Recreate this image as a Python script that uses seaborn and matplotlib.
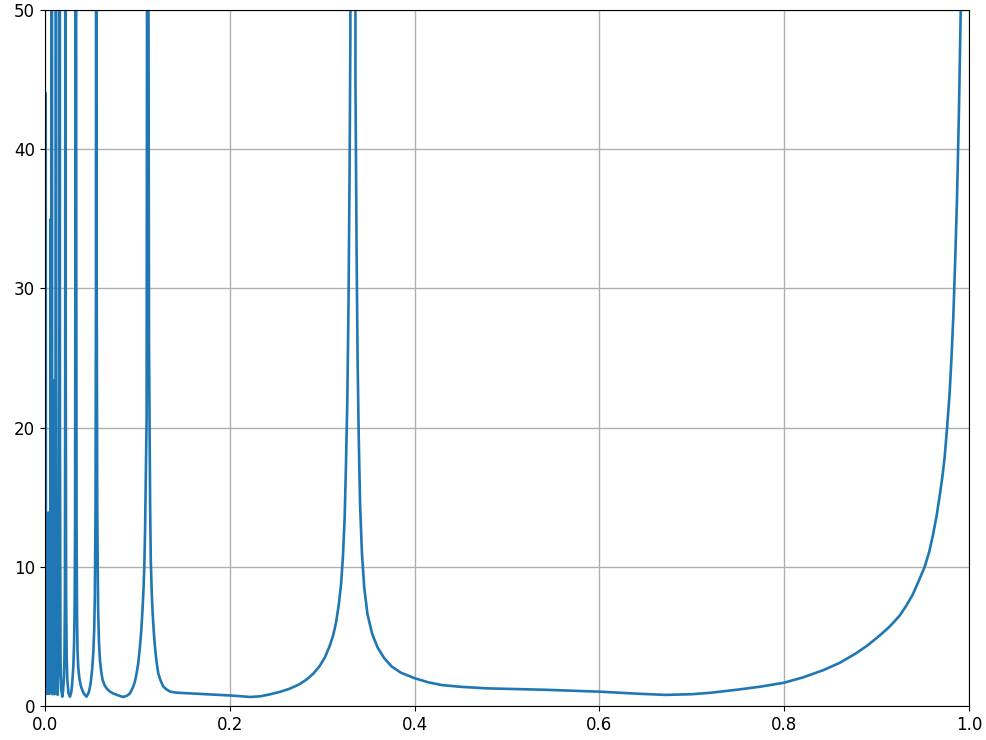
import numpy as np
import pandas as pd
import matplotlib
matplotlib.use("Agg")
import matplotlib.pyplot as plt
import seaborn as sns

# values, split by region (x, y)
# dense bunch of spikes close to zero
x_near0 = [0.0008, 0.0011, 0.0014, 0.0017, 0.0021, 0.0025, 0.0029, 0.0033,
           0.0038, 0.0043, 0.0049, 0.0055, 0.0062, 0.0067, 0.0071, 0.0074,
           0.0078, 0.0083, 0.0089, 0.0093, 0.0097, 0.0104, 0.0112, 0.0116,
           0.0119, 0.0122, 0.0128, 0.0137, 0.0147, 0.0153, 0.0156, 0.0159,
           0.0162, 0.0168, 0.0176, 0.0187]
y_near0 = [44.0, 1.1, 12.8, 0.9, 13.1, 0.9, 13.4, 0.9,
           13.9, 0.9, 13.0, 0.9, 35.0, 3.0, 30.0, 120.0,
           8.0, 0.85, 6.0, 23.4, 5.0, 0.85, 6.0, 30.0,
           120.0, 25.0, 3.0, 0.8, 3.0, 12.0, 31.6, 150.0,
           20.0, 3.5, 1.2, 0.67]

# spikes at ~1/45, 1/30, 1/18
x_mid1 = [0.0196, 0.0206, 0.0211, 0.0216, 0.0219, 0.0222, 0.0225, 0.0229,
          0.0235, 0.0242, 0.0255, 0.0271, 0.0285, 0.0293, 0.0300, 0.0308,
          0.0315, 0.0321, 0.0326, 0.0330, 0.0334, 0.0338, 0.0342, 0.0347,
          0.0352, 0.0360, 0.0372, 0.0385, 0.0397, 0.0420, 0.0450, 0.0475,
          0.0494, 0.0510, 0.0523, 0.0533, 0.0540, 0.0547, 0.0552, 0.0556,
          0.0560, 0.0566, 0.0575, 0.0585, 0.0595, 0.0610, 0.0624, 0.0645,
          0.0667, 0.0700, 0.0739, 0.0780, 0.0812, 0.0848]
y_mid1 = [1.1, 2.1, 3.5, 8.0, 25.0, 150.0, 25.0, 8.0,
          3.5, 1.87, 0.9, 0.67, 1.0, 1.5, 2.1, 3.0,
          4.5, 7.0, 13.0, 40.0, 200.0, 40.0, 13.0, 6.5,
          4.0, 2.8, 2.0, 1.55, 1.27, 0.9, 0.67, 1.0,
          1.6, 2.6, 3.8, 5.5, 8.0, 14.0, 30.0, 250.0,
          30.0, 14.0, 7.0, 4.5, 3.3, 2.4, 1.87, 1.5,
          1.27, 1.05, 0.9, 0.8, 0.72, 0.65]

# spike at ~1/9
x_mid2 = [0.0890, 0.0920, 0.0956, 0.0975, 0.0992, 0.1010, 0.1028, 0.1043,
          0.1057, 0.1067, 0.1075, 0.1083, 0.1090, 0.1096, 0.1100, 0.1106,
          0.1111, 0.1118, 0.1126, 0.1132, 0.1138, 0.1145, 0.1155, 0.1165,
          0.1178, 0.1190, 0.1207, 0.1226, 0.1250, 0.1280, 0.1315, 0.1350,
          0.1400, 0.1450, 0.1570, 0.1700, 0.1860, 0.2000, 0.2110, 0.2220]
y_mid2 = [0.75, 0.91, 1.4, 1.8, 2.35, 3.1, 4.27, 5.5,
          7.1, 8.5, 10.0, 12.5, 15.8, 18.5, 20.6, 60.0,
          400.0, 60.0, 26.0, 20.0, 14.5, 10.5, 8.2, 6.7,
          5.3, 4.27, 3.2, 2.35, 1.85, 1.4, 1.2, 1.05,
          0.98, 0.95, 0.91, 0.86, 0.82, 0.76, 0.71, 0.65]

# spike at ~1/3
x_mid3 = [0.2330, 0.2435, 0.2550, 0.2650, 0.2750, 0.2830, 0.2900, 0.2970,
          0.3030, 0.3080, 0.3120, 0.3150, 0.3180, 0.3205, 0.3225, 0.3243,
          0.3258, 0.3272, 0.3285, 0.3296, 0.3305, 0.3333, 0.3360, 0.3372,
          0.3383, 0.3395, 0.3410, 0.3430, 0.3455, 0.3490, 0.3540, 0.3600,
          0.3670, 0.3750, 0.3850, 0.4000, 0.4150, 0.4300, 0.4500, 0.4780,
          0.5400, 0.6010, 0.6430, 0.6720]
y_mid3 = [0.7, 0.84, 1.03, 1.25, 1.55, 1.9, 2.3, 2.85,
          3.5, 4.3, 5.1, 6.0, 7.3, 8.8, 10.8, 13.5,
          17.5, 22.0, 29.0, 38.0, 48.0, 500.0, 45.0, 33.0,
          25.0, 19.5, 14.5, 11.0, 8.5, 6.6, 5.2, 4.2,
          3.45, 2.85, 2.4, 2.0, 1.7, 1.5, 1.38, 1.27,
          1.17, 1.03, 0.88, 0.8]

# rise towards x = 1
x_tail = [0.7000, 0.7200, 0.7510, 0.7750, 0.8000, 0.8200, 0.8420, 0.8600,
          0.8780, 0.8900, 0.9030, 0.9140, 0.9250, 0.9320, 0.9390, 0.9450,
          0.9520, 0.9570, 0.9610, 0.9650, 0.9680, 0.9710, 0.9735, 0.9765,
          0.9790, 0.9810, 0.9830, 0.9850, 0.9870, 0.9890, 0.9912, 0.9960]
y_tail = [0.85, 0.95, 1.19, 1.4, 1.68, 2.05, 2.57, 3.1,
          3.8, 4.35, 5.05, 5.7, 6.5, 7.2, 8.0, 8.9,
          10.0, 11.1, 12.3, 13.7, 15.0, 16.4, 17.8, 20.2,
          22.5, 25.0, 28.0, 32.0, 36.5, 42.5, 50.5, 120.0]

df = pd.DataFrame({
    "x": x_near0 + x_mid1 + x_mid2 + x_mid3 + x_tail,
    "y": y_near0 + y_mid1 + y_mid2 + y_mid3 + y_tail,
})

fig = plt.figure(figsize=(9.86, 7.4), dpi=100)
ax = fig.add_axes([0.0456, 0.0459, 0.9372, 0.9406])

sns.lineplot(data=df, x="x", y="y", ax=ax, color="#1f77b4", linewidth=1.9,
             sort=False, estimator=None)

ax.set_xlim(0, 1)
ax.set_ylim(0, 50)
ax.set_xticks([0.0, 0.2, 0.4, 0.6, 0.8, 1.0])
ax.set_yticks([0, 10, 20, 30, 40, 50])
ax.set_xlabel("")
ax.set_ylabel("")
ax.tick_params(labelsize=12)
ax.grid(True, color="#b0b0b0", linewidth=1.0)
ax.set_axisbelow(True)

fig.savefig("out.png", dpi=100)
